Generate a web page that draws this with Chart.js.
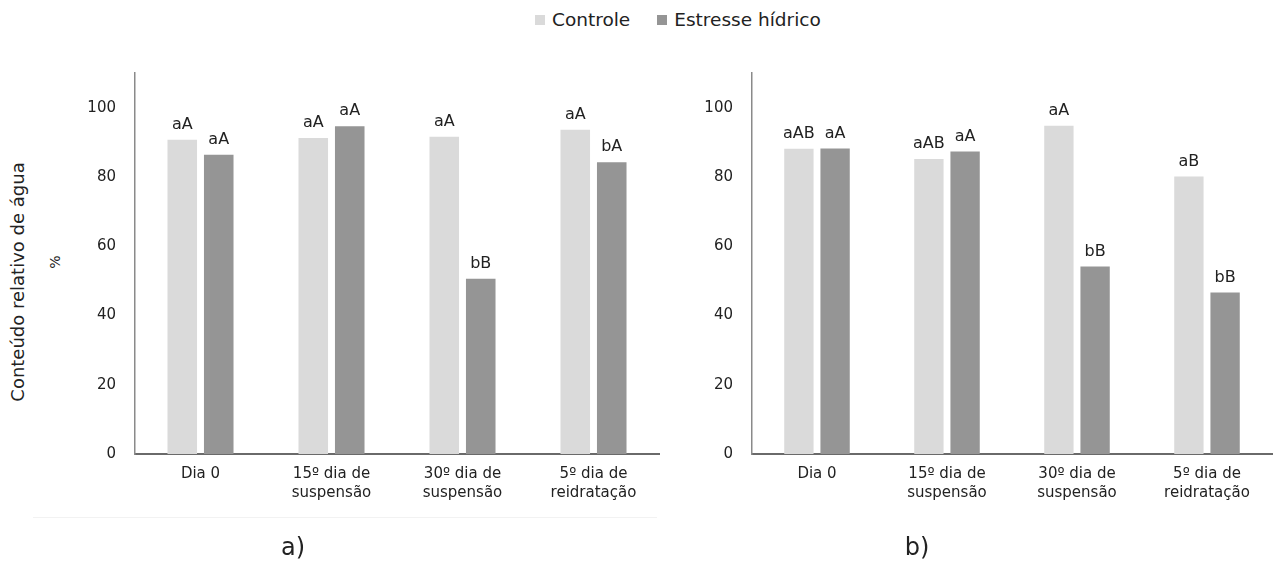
<!DOCTYPE html>
<html lang="pt">
<head>
<meta charset="utf-8">
<script src="https://cdn.jsdelivr.net/npm/chart.js@4/dist/chart.umd.min.js"></script>
<style>
  html, body { margin: 0; padding: 0; background: #fff; }
  body { width: 1275px; height: 562px; position: relative; overflow: hidden;
         font-family: 'DejaVu Sans', sans-serif; color: #222; }
  .wrap { position: absolute; top: 0; height: 562px; }
  #wrapA { left: 0; width: 662px; }
  #wrapB { left: 640px; width: 635px; }
  .legend { position: absolute; top: 7px; left: 535px; white-space: nowrap;
            font-size: 18.5px; line-height: 24px; }
  .legend span { display: inline-flex; align-items: center; margin-right: 27px; }
  .legend i { display: inline-block; width: 10px; height: 10px; margin-right: 7px; }
  .ytitle { position: absolute; left: 17px; top: 282px; font-size: 18px; white-space: nowrap;
            transform: translate(-50%, -50%) rotate(-90deg); }
  .ypct { position: absolute; left: 55px; top: 262px; font-size: 14px;
          transform: translate(-50%, -50%) rotate(-90deg); }
  .panel { position: absolute; top: 547px; font-size: 24px; transform: translate(-50%, -50%); }
  .frame { position: absolute; left: 33px; width: 624px; top: 517px; border-top: 1px solid #f2f2f2; }
</style>
</head>
<body>
<div class="legend" id="legend"></div>
<div class="frame"></div>
<div class="ytitle">Conteúdo relativo de água</div>
<div class="ypct">%</div>
<div class="wrap" id="wrapA"><canvas id="chartA"></canvas></div>
<div class="wrap" id="wrapB"><canvas id="chartB"></canvas></div>
<div class="panel" style="left:293px">a)</div>
<div class="panel" style="left:917px">b)</div>
<script>
// ─── 데이터 ─────────────────────────────────────────────────────────────────
const categories = [
  ['Dia 0'],
  ['15º dia de', 'suspensão'],
  ['30º dia de', 'suspensão'],
  ['5º dia de', 'reidratação'],
];
const seriesNames = ['Controle', 'Estresse hídrico'];

// a)
const controleA = [90.7, 91.2, 91.6, 93.6];
const estresseA = [86.4, 94.6, 50.6, 84.2];
const lettersControleA = ['aA', 'aA', 'aA', 'aA'];
const lettersEstresseA = ['aA', 'aA', 'bB', 'bA'];

// b)
const controleB = [88.1, 85.2, 94.8, 80.1];
const estresseB = [88.2, 87.3, 54.1, 46.6];
const lettersControleB = ['aAB', 'aAB', 'aA', 'aB'];
const lettersEstresseB = ['aA', 'aA', 'bB', 'bB'];

const yTicks = [0, 20, 40, 60, 80, 100];
const yMax = 110;

const COLORS = ['#DADADA', '#959595'];
const FONT = "'DejaVu Sans', sans-serif";

// ─── 범례 ───────────────────────────────────────────────────────────────────
document.getElementById('legend').innerHTML = seriesNames
  .map((n, i) => `<span><i style="background:${COLORS[i]}"></i>${n}</span>`)
  .join('');

// ─── 막대 위 글자 ───────────────────────────────────────────────────────────
const letterPlugin = {
  id: 'letters',
  afterDatasetsDraw(chart) {
    const { ctx } = chart;
    ctx.save();
    ctx.font = `16px ${FONT}`;
    ctx.fillStyle = '#222';
    ctx.textAlign = 'center';
    ctx.textBaseline = 'alphabetic';
    chart.data.datasets.forEach((ds, i) => {
      chart.getDatasetMeta(i).data.forEach((bar, j) => {
        ctx.fillText(ds.letters[j], bar.x, bar.y - 11);
      });
    });
    ctx.restore();
  },
};

function makeChart(id, controle, estresse, lettersC, lettersE, yWidth) {
  const ctx = document.getElementById(id).getContext('2d');
  return new Chart(ctx, {
    type: 'bar',
    data: {
      labels: categories,
      datasets: [
        { label: seriesNames[0], data: controle, letters: lettersC, backgroundColor: COLORS[0] },
        { label: seriesNames[1], data: estresse, letters: lettersE, backgroundColor: COLORS[1] },
      ],
    },
    plugins: [letterPlugin],
    options: {
      responsive: true,
      maintainAspectRatio: false,
      animation: false,
      categoryPercentage: 0.557,
      barPercentage: 0.81,
      layout: { padding: { top: 73, right: 3, left: 0, bottom: 0 } },
      plugins: { legend: { display: false }, tooltip: { enabled: false } },
      scales: {
        x: {
          grid: { display: false, drawTicks: false },
          border: { color: '#6a6a6a', width: 2 },
          ticks: { color: '#222', padding: 10, maxRotation: 0, autoSkip: false,
                   font: { family: FONT, size: 15, lineHeight: 1.3 } },
          afterFit: (s) => { s.height = 108; },
        },
        y: {
          min: 0,
          max: yMax,
          grid: { display: false, drawTicks: false },
          border: { color: '#8a8a8a', width: 1.5 },
          ticks: { color: '#222', padding: 19, font: { family: FONT, size: 15 } },
          afterBuildTicks: (s) => { s.ticks = yTicks.map((v) => ({ value: v })); },
          afterFit: (s) => { s.width = yWidth; },
        },
      },
    },
  });
}

makeChart('chartA', controleA, estresseA, lettersControleA, lettersEstresseA, 135);
makeChart('chartB', controleB, estresseB, lettersControleB, lettersEstresseB, 112);
</script>
</body>
</html>
